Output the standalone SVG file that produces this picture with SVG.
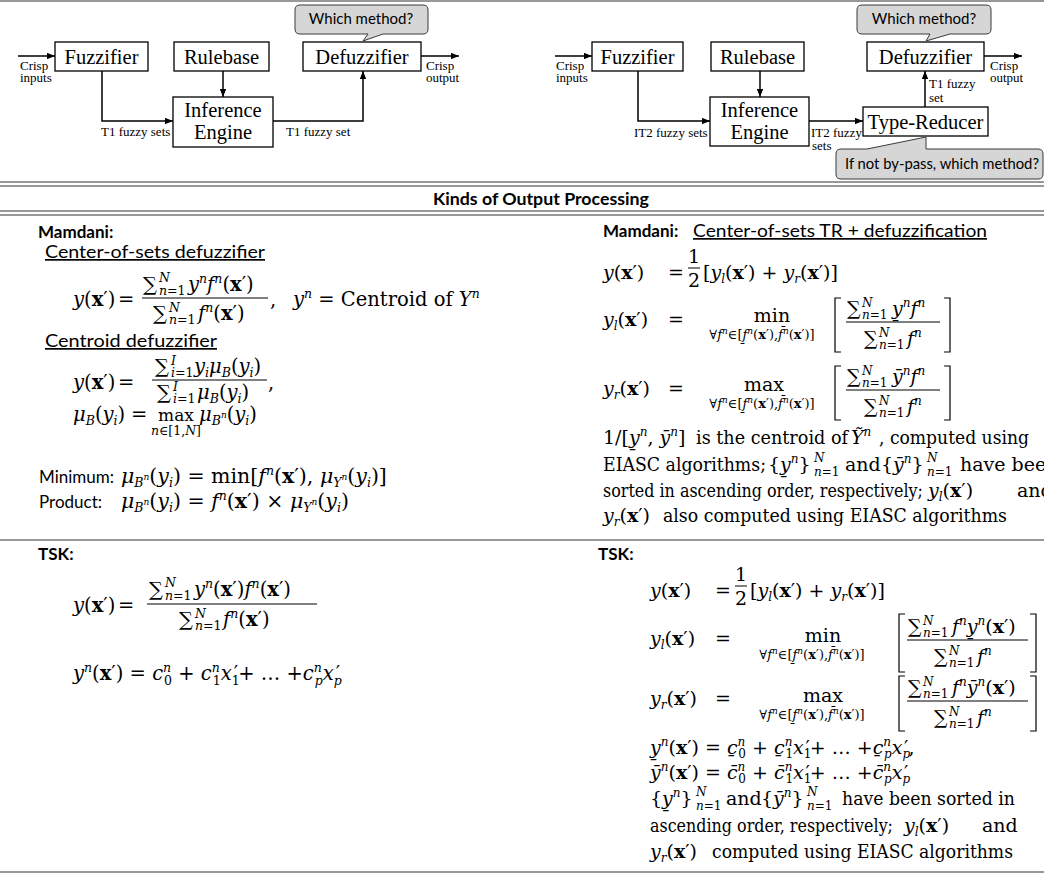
<svg xmlns="http://www.w3.org/2000/svg" width="1044" height="875" viewBox="0 0 1044 875">
<style>
.sep{stroke:#767676;stroke-width:1.6;fill:none}
.box rect{fill:#fff;stroke:#000;stroke-width:1.3}
.bt{font-family:"Liberation Serif","Times New Roman",serif;font-size:20.5px;text-anchor:middle;fill:#000}
.lb{font-family:"Liberation Serif","Times New Roman",serif;font-size:13px;fill:#000}
.call path{fill:#d6d6d6;stroke:#3a3a3a;stroke-width:1}
.ct{font-family:Lato,"Liberation Sans",sans-serif;font-size:15px;fill:#000}
#connectors path{fill:none;stroke:#000;stroke-width:1.5}
.sn{font-family:Lato,"Liberation Sans",sans-serif;font-size:17px;fill:#000}
.sb{font-family:Lato,"Liberation Sans",sans-serif;font-size:17px;font-weight:bold;fill:#000}
.m{font-family:"DejaVu Serif",serif;font-size:19.5px;fill:#000}
.mm{font-family:"DejaVu Serif",serif;font-size:20.5px;fill:#000}
.r{font-family:"DejaVu Serif",serif;font-size:19px;fill:#000}
.i{font-style:italic}
.b{font-weight:bold;font-style:normal}
.s{font-size:12.5px}
.q{font-size:12px}
.lim{font-size:13px}
.t{font-size:9px}
.op{font-size:17px}
.fb{stroke:#000;stroke-width:1}
.br{fill:none;stroke:#000;stroke-width:1.2}
.u{text-decoration:underline}
</style>
<defs>
<marker id="ah" viewBox="0 0 10 8" refX="10" refY="4" markerWidth="8" markerHeight="6.4" markerUnits="userSpaceOnUse" orient="auto"><path d="M0,0 L10,4 L0,8 z" fill="#000"/></marker>
</defs>
<rect x="0" y="0" width="1044" height="875" fill="#fff"/>
<g id="rules">
<line class="sep" x1="0" y1="1" x2="1044" y2="1"/>
<line class="sep" x1="0" y1="182" x2="1044" y2="182"/>
<line class="sep" x1="0" y1="186" x2="1044" y2="186"/>
<line class="sep" x1="0" y1="211" x2="1044" y2="211"/>
<line class="sep" x1="0" y1="215" x2="1044" y2="215"/>
<line class="sep" x1="0" y1="540" x2="1044" y2="540"/>
<line class="sep" x1="0" y1="872" x2="1044" y2="872"/>
</g>

<!-- T1 FLS -->
<g id="t1-fuzzifier" class="box"><rect x="55" y="42" width="93" height="29"/><text class="bt" x="101.5" y="64">Fuzzifier</text></g>
<g id="t1-rulebase" class="box"><rect x="174" y="42" width="95" height="29"/><text class="bt" x="221.5" y="64">Rulebase</text></g>
<g id="t1-defuzzifier" class="box"><rect x="303" y="42" width="118" height="29"/><text class="bt" x="362" y="64">Defuzzifier</text></g>
<g id="t1-inference" class="box"><rect x="173" y="97" width="100" height="50"/><text class="bt" x="223" y="117">Inference</text><text class="bt" x="223" y="139">Engine</text></g>
<g id="t1-callout" class="call"><path d="M300,5 H423 Q428,5 428,10 V29 Q428,34 423,34 H383 L363,41 L368,34 H300 Q295,34 295,29 V10 Q295,5 300,5 Z"/><text class="ct" x="361" y="24" text-anchor="middle">Which method?</text></g>

<!-- IT2 FLS -->
<g id="it2-fuzzifier" class="box"><rect x="592" y="42" width="91" height="29"/><text class="bt" x="637.5" y="64">Fuzzifier</text></g>
<g id="it2-rulebase" class="box"><rect x="711" y="42" width="93" height="29"/><text class="bt" x="757.5" y="64">Rulebase</text></g>
<g id="it2-defuzzifier" class="box"><rect x="867" y="42" width="117" height="29"/><text class="bt" x="925.5" y="64">Defuzzifier</text></g>
<g id="it2-inference" class="box"><rect x="710" y="97" width="99" height="49"/><text class="bt" x="759.5" y="117">Inference</text><text class="bt" x="759.5" y="139">Engine</text></g>
<g id="it2-typereducer" class="box"><rect x="863" y="107" width="125" height="29"/><text class="bt" x="925.5" y="129">Type-Reducer</text></g>
<g id="it2-callout-def" class="call"><path d="M862,5 H986 Q991,5 991,10 V29 Q991,34 986,34 H950 L926,41 L930,34 H862 Q857,34 857,29 V10 Q857,5 862,5 Z"/><text class="ct" x="924" y="24" text-anchor="middle">Which method?</text></g>
<g id="it2-callout-tr" class="call"><path d="M841,149 H867 L926,137 L926,149 H1038 Q1043,149 1043,154 V174 Q1043,179 1038,179 H841 Q836,179 836,174 V154 Q836,149 841,149 Z"/><text class="ct" x="845" y="169" textLength="194" lengthAdjust="spacingAndGlyphs">If not by-pass, which method?</text></g>

<g id="connectors">
<path d="M18,56 H55" marker-end="url(#ah)"/>
<path d="M102,71 V121 H173" marker-end="url(#ah)"/>
<path d="M223,71 V97" marker-end="url(#ah)"/>
<path d="M273,121 H363 V71" marker-end="url(#ah)"/>
<path d="M421,56 H459" marker-end="url(#ah)"/>
<path d="M555,56 H592" marker-end="url(#ah)"/>
<path d="M638,71 V121 H710" marker-end="url(#ah)"/>
<path d="M760,71 V97" marker-end="url(#ah)"/>
<path d="M809,121 H863" marker-end="url(#ah)"/>
<path d="M925,107 V71" marker-end="url(#ah)"/>
<path d="M984,56 H1022" marker-end="url(#ah)"/>
<text class="lb" x="20" y="70">Crisp</text><text class="lb" x="20" y="82">inputs</text>
<text class="lb" x="426" y="70">Crisp</text><text class="lb" x="426" y="82">output</text>
<text class="lb" x="101" y="136">T1 fuzzy sets</text>
<text class="lb" x="286" y="136">T1 fuzzy set</text>
<text class="lb" x="556" y="70">Crisp</text><text class="lb" x="556" y="82">inputs</text>
<text class="lb" x="990" y="70">Crisp</text><text class="lb" x="990" y="82">output</text>
<text class="lb" x="634" y="137">IT2 fuzzy sets</text>
<text class="lb" x="811" y="137">IT2 fuzzy</text><text class="lb" x="812" y="150">sets</text>
<text class="lb" x="929" y="88">T1 fuzzy</text><text class="lb" x="929" y="102">set</text>
</g>

<text class="sb" x="541" y="205" text-anchor="middle" textLength="216" lengthAdjust="spacingAndGlyphs">Kinds of Output Processing</text>

<!-- LEFT: Mamdani -->
<g id="left-mamdani">
<text class="sb" x="38" y="238">Mamdani:</text>
<text class="sn u" x="45" y="258" textLength="220" lengthAdjust="spacingAndGlyphs">Center-of-sets defuzzifier</text>
<text class="m" x="73" y="306"><tspan class="i">y</tspan>(<tspan class="b">x</tspan>′)<tspan x="118">=</tspan></text>
<text class="m" x="143" y="291">∑</text>
<text class="m s i" x="159" y="282">N</text>
<text class="m s" x="159" y="295"><tspan class="i">n</tspan>=1</text>
<text class="m" x="188" y="291"><tspan class="i">y</tspan><tspan class="s i" dy="-8">n</tspan><tspan class="i" dy="8">f</tspan><tspan class="s i" dy="-8">n</tspan><tspan dy="8">(</tspan><tspan class="b">x</tspan>′)</text>
<line class="fb" x1="142" y1="298" x2="268" y2="298"/>
<text class="m" x="153" y="320">∑</text>
<text class="m s i" x="169" y="312">N</text>
<text class="m s" x="169" y="324"><tspan class="i">n</tspan>=1</text>
<text class="m" x="198" y="320"><tspan class="i">f</tspan><tspan class="s i" dy="-8">n</tspan><tspan dy="8">(</tspan><tspan class="b">x</tspan>′)</text>
<text class="m" x="270" y="306">,</text>
<text class="m" x="293" y="306"><tspan class="i">y</tspan><tspan class="s i" dy="-8">n</tspan><tspan dy="8"> = Centroid of </tspan><tspan class="i">Y</tspan><tspan class="s i" dy="-8">n</tspan></text>

<text class="sn u" x="45" y="347" textLength="172" lengthAdjust="spacingAndGlyphs">Centroid defuzzifier</text>
<text class="m" x="73" y="389"><tspan class="i">y</tspan>(<tspan class="b">x</tspan>′)<tspan x="118">=</tspan></text>
<text class="m" x="155" y="373">∑</text>
<text class="m s i" x="171" y="365">I</text>
<text class="m s" x="171" y="377"><tspan class="i">i</tspan>=1</text>
<text class="m" x="194" y="373"><tspan class="i">y</tspan><tspan class="s i" dy="4">i</tspan><tspan class="i" dy="-4">μ</tspan><tspan class="s i" dy="4">B</tspan><tspan dy="-4">(</tspan><tspan class="i">y</tspan><tspan class="s i" dy="4">i</tspan><tspan dy="-4">)</tspan></text>
<line class="fb" x1="152" y1="380" x2="267" y2="380"/>
<text class="m" x="157" y="399">∑</text>
<text class="m s i" x="173" y="391">I</text>
<text class="m s" x="173" y="403"><tspan class="i">i</tspan>=1</text>
<text class="m" x="197" y="399"><tspan class="i">μ</tspan><tspan class="s i" dy="4">B</tspan><tspan dy="-4">(</tspan><tspan class="i">y</tspan><tspan class="s i" dy="4">i</tspan><tspan dy="-4">)</tspan></text>
<text class="m" x="268" y="389">,</text>
<text class="m" x="73" y="421"><tspan class="i">μ</tspan><tspan class="s i" dy="4">B</tspan><tspan dy="-4">(</tspan><tspan class="i">y</tspan><tspan class="s i" dy="4">i</tspan><tspan dy="-4">)</tspan><tspan x="131">=</tspan></text>
<text class="m op" x="176" y="421" text-anchor="middle">max</text>
<text class="m s" x="176" y="435" text-anchor="middle"><tspan class="i">n</tspan>∈[1,<tspan class="i">N</tspan>]</text>
<text class="m" x="199" y="421"><tspan class="i">μ</tspan><tspan class="s i" dy="4">B</tspan><tspan class="t i" dy="-7">n</tspan><tspan dy="3">(</tspan><tspan class="i">y</tspan><tspan class="s i" dy="4">i</tspan><tspan dy="-4">)</tspan></text>

<text class="sn" x="39" y="483">Minimum:</text>
<text class="mm" x="121" y="483"><tspan class="i">μ</tspan><tspan class="s i" dy="4">B</tspan><tspan class="t i" dy="-7">n</tspan><tspan dy="3">(</tspan><tspan class="i">y</tspan><tspan class="s i" dy="4">i</tspan><tspan dy="-4">) = min[</tspan><tspan class="i">f</tspan><tspan class="s i" dy="-8">n</tspan><tspan dy="8">(</tspan><tspan class="b">x</tspan>′), <tspan class="i">μ</tspan><tspan class="s i" dy="4">Y</tspan><tspan class="t i" dy="-7">n</tspan><tspan dy="3">(</tspan><tspan class="i">y</tspan><tspan class="s i" dy="4">i</tspan><tspan dy="-4">)]</tspan></text>
<text class="sn" x="39" y="508">Product:</text>
<text class="mm" x="121" y="508"><tspan class="i">μ</tspan><tspan class="s i" dy="4">B</tspan><tspan class="t i" dy="-7">n</tspan><tspan dy="3">(</tspan><tspan class="i">y</tspan><tspan class="s i" dy="4">i</tspan><tspan dy="-4">) = </tspan><tspan class="i">f</tspan><tspan class="s i" dy="-8">n</tspan><tspan dy="8">(</tspan><tspan class="b">x</tspan>′) × <tspan class="i">μ</tspan><tspan class="s i" dy="4">Y</tspan><tspan class="t i" dy="-7">n</tspan><tspan dy="3">(</tspan><tspan class="i">y</tspan><tspan class="s i" dy="4">i</tspan><tspan dy="-4">)</tspan></text>
</g>

<!-- LEFT: TSK -->
<g id="left-tsk">
<text class="sb" x="38" y="560">TSK:</text>
<text class="m" x="73" y="612"><tspan class="i">y</tspan>(<tspan class="b">x</tspan>′)<tspan x="118">=</tspan></text>
<text class="m" x="149" y="596">∑</text>
<text class="m s i" x="165" y="587">N</text>
<text class="m s" x="165" y="600"><tspan class="i">n</tspan>=1</text>
<text class="m" x="194" y="596"><tspan class="i">y</tspan><tspan class="s i" dy="-8">n</tspan><tspan dy="8">(</tspan><tspan class="b">x</tspan>′)<tspan class="i">f</tspan><tspan class="s i" dy="-8">n</tspan><tspan dy="8">(</tspan><tspan class="b">x</tspan>′)</text>
<line class="fb" x1="147" y1="604" x2="317" y2="604"/>
<text class="m" x="179" y="626">∑</text>
<text class="m s i" x="195" y="618">N</text>
<text class="m s" x="195" y="630"><tspan class="i">n</tspan>=1</text>
<text class="m" x="223" y="626"><tspan class="i">f</tspan><tspan class="s i" dy="-8">n</tspan><tspan dy="8">(</tspan><tspan class="b">x</tspan>′)</text>
<text class="m" x="73" y="680"><tspan class="i">y</tspan><tspan class="s i" dy="-8">n</tspan><tspan dy="8">(</tspan><tspan class="b">x</tspan>′) = <tspan class="i">c</tspan><tspan class="s i" dy="-8">n</tspan><tspan class="s" dx="-7" dy="13">0</tspan><tspan dy="-5"> + </tspan><tspan class="i">c</tspan><tspan class="s i" dy="-8">n</tspan><tspan class="s" dx="-7" dy="13">1</tspan><tspan class="i" dy="-5">x</tspan><tspan class="s" dy="5">1</tspan><tspan dx="-6" dy="-5">′</tspan>+ … +<tspan class="i">c</tspan><tspan class="s i" dy="-8">n</tspan><tspan class="s i" dx="-7" dy="13">p</tspan><tspan class="i" dy="-5">x</tspan><tspan class="s i" dy="5">p</tspan><tspan dx="-6" dy="-5">′</tspan></text>
</g>

<!-- RIGHT: Mamdani -->
<g id="right-mamdani">
<text class="sb" x="603" y="237">Mamdani:</text>
<text class="sn u" x="693" y="237" textLength="294" lengthAdjust="spacingAndGlyphs">Center-of-sets TR + defuzzification</text>
<text class="r" x="603" y="279"><tspan class="i">y</tspan>(<tspan class="b">x</tspan>′)<tspan x="668">=</tspan></text>
<text class="r" x="694" y="263" text-anchor="middle">1</text>
<line class="fb" x1="688" y1="268" x2="700" y2="268"/>
<text class="r" x="694" y="287" text-anchor="middle">2</text>
<text class="r" x="703" y="279">[<tspan class="i">y</tspan><tspan class="q i" dy="4">l</tspan><tspan dy="-4">(</tspan><tspan class="b">x</tspan>′) + <tspan class="i">y</tspan><tspan class="q i" dy="4">r</tspan><tspan dy="-4">(</tspan><tspan class="b">x</tspan>′)]</text>

<text class="r" x="603" y="326"><tspan class="i">y</tspan><tspan class="q i" dy="4">l</tspan><tspan dy="-4">(</tspan><tspan class="b">x</tspan>′)<tspan x="668">=</tspan></text>
<text class="r" x="772" y="322" text-anchor="middle">min</text>
<text class="r lim" x="762" y="339" text-anchor="middle">∀<tspan class="i">f</tspan><tspan class="t i" dy="-5">n</tspan><tspan dy="5">∈[</tspan><tspan class="i">f̱</tspan><tspan class="t i" dy="-5">n</tspan><tspan dy="5">(</tspan><tspan class="b">x</tspan>′),<tspan class="i">f̄</tspan><tspan class="t i" dy="-5">n</tspan><tspan dy="5">(</tspan><tspan class="b">x</tspan>′)]</text>
<path class="br" d="M841,298 H835 V352 H841"/>
<path class="br" d="M944,298 H950 V352 H944"/>
<text class="r" x="847" y="315">∑</text>
<text class="r q i" x="862" y="307">N</text>
<text class="r q" x="862" y="319"><tspan class="i">n</tspan>=1</text>
<text class="r" x="892" y="315"><tspan class="i">y̱</tspan><tspan class="q i" dy="-8">n</tspan><tspan class="i" dy="8">f</tspan><tspan class="q i" dy="-8">n</tspan></text>
<line class="fb" x1="846" y1="322" x2="940" y2="322"/>
<text class="r" x="864" y="345">∑</text>
<text class="r q i" x="879" y="337">N</text>
<text class="r q" x="879" y="349"><tspan class="i">n</tspan>=1</text>
<text class="r" x="907" y="345"><tspan class="i">f</tspan><tspan class="q i" dy="-8">n</tspan></text>

<text class="r" x="603" y="395"><tspan class="i">y</tspan><tspan class="q i" dy="4">r</tspan><tspan dy="-4">(</tspan><tspan class="b">x</tspan>′)<tspan x="668">=</tspan></text>
<text class="r" x="764" y="391" text-anchor="middle">max</text>
<text class="r lim" x="762" y="408" text-anchor="middle">∀<tspan class="i">f</tspan><tspan class="t i" dy="-5">n</tspan><tspan dy="5">∈[</tspan><tspan class="i">f̱</tspan><tspan class="t i" dy="-5">n</tspan><tspan dy="5">(</tspan><tspan class="b">x</tspan>′),<tspan class="i">f̄</tspan><tspan class="t i" dy="-5">n</tspan><tspan dy="5">(</tspan><tspan class="b">x</tspan>′)]</text>
<path class="br" d="M841,366 H835 V420 H841"/>
<path class="br" d="M944,366 H950 V420 H944"/>
<text class="r" x="847" y="383">∑</text>
<text class="r q i" x="862" y="375">N</text>
<text class="r q" x="862" y="387"><tspan class="i">n</tspan>=1</text>
<text class="r" x="892" y="383"><tspan class="i">ȳ</tspan><tspan class="q i" dy="-8">n</tspan><tspan class="i" dy="8">f</tspan><tspan class="q i" dy="-8">n</tspan></text>
<line class="fb" x1="846" y1="390" x2="940" y2="390"/>
<text class="r" x="864" y="413">∑</text>
<text class="r q i" x="879" y="405">N</text>
<text class="r q" x="879" y="417"><tspan class="i">n</tspan>=1</text>
<text class="r" x="907" y="413"><tspan class="i">f</tspan><tspan class="q i" dy="-8">n</tspan></text>

<text class="r" x="603" y="444">1/[<tspan class="i">y̱</tspan><tspan class="q i" dy="-8">n</tspan><tspan dy="8">, </tspan><tspan class="i">ȳ</tspan><tspan class="q i" dy="-8">n</tspan><tspan dy="8">]</tspan></text>
<text class="r" x="696" y="444" textLength="152" lengthAdjust="spacingAndGlyphs">is the centroid of</text>
<text class="r" x="851" y="444"><tspan class="i">Ỹ</tspan><tspan class="q i" dy="-8">n</tspan></text>
<text class="r" x="879" y="444" textLength="150" lengthAdjust="spacingAndGlyphs">, computed using</text>

<text class="r" x="603" y="471" textLength="163" lengthAdjust="spacingAndGlyphs">EIASC algorithms;</text>
<text class="r" x="768" y="471">{<tspan class="i">y̱</tspan><tspan class="q i" dy="-8">n</tspan><tspan dy="8">}</tspan></text>
<text class="r q i" x="814" y="462">N</text>
<text class="r q" x="814" y="476"><tspan class="i">n</tspan>=1</text>
<text class="r" x="845" y="471">and</text>
<text class="r" x="881" y="471">{<tspan class="i">ȳ</tspan><tspan class="q i" dy="-8">n</tspan><tspan dy="8">}</tspan></text>
<text class="r q i" x="927" y="462">N</text>
<text class="r q" x="927" y="476"><tspan class="i">n</tspan>=1</text>
<text class="r" x="960" y="471">have been</text>

<text class="r" x="603" y="497" textLength="320" lengthAdjust="spacingAndGlyphs">sorted in ascending order, respectively;</text>
<text class="r" x="928" y="497"><tspan class="i">y</tspan><tspan class="q i" dy="4">l</tspan><tspan dy="-4">(</tspan><tspan class="b">x</tspan>′)</text>
<text class="r" x="1017" y="497">and</text>

<text class="r" x="603" y="522"><tspan class="i">y</tspan><tspan class="q i" dy="4">r</tspan><tspan dy="-4">(</tspan><tspan class="b">x</tspan>′)</text>
<text class="r" x="663" y="522" textLength="344" lengthAdjust="spacingAndGlyphs">also computed using EIASC algorithms</text>
</g>

<!-- RIGHT: TSK -->
<g id="right-tsk">
<text class="sb" x="598" y="560">TSK:</text>
<text class="r" x="650" y="597"><tspan class="i">y</tspan>(<tspan class="b">x</tspan>′)<tspan x="715">=</tspan></text>
<text class="r" x="741" y="581" text-anchor="middle">1</text>
<line class="fb" x1="735" y1="586" x2="747" y2="586"/>
<text class="r" x="741" y="605" text-anchor="middle">2</text>
<text class="r" x="750" y="597">[<tspan class="i">y</tspan><tspan class="q i" dy="4">l</tspan><tspan dy="-4">(</tspan><tspan class="b">x</tspan>′) + <tspan class="i">y</tspan><tspan class="q i" dy="4">r</tspan><tspan dy="-4">(</tspan><tspan class="b">x</tspan>′)]</text>

<text class="r" x="650" y="645"><tspan class="i">y</tspan><tspan class="q i" dy="4">l</tspan><tspan dy="-4">(</tspan><tspan class="b">x</tspan>′)<tspan x="715">=</tspan></text>
<text class="r" x="823" y="642" text-anchor="middle">min</text>
<text class="r lim" x="812" y="659" text-anchor="middle">∀<tspan class="i">f</tspan><tspan class="t i" dy="-5">n</tspan><tspan dy="5">∈[</tspan><tspan class="i">f̱</tspan><tspan class="t i" dy="-5">n</tspan><tspan dy="5">(</tspan><tspan class="b">x</tspan>′),<tspan class="i">f̄</tspan><tspan class="t i" dy="-5">n</tspan><tspan dy="5">(</tspan><tspan class="b">x</tspan>′)]</text>
<path class="br" d="M905,614 H899 V672 H905"/>
<path class="br" d="M1030,614 H1036 V672 H1030"/>
<text class="r" x="908" y="633">∑</text>
<text class="r q i" x="923" y="625">N</text>
<text class="r q" x="923" y="637"><tspan class="i">n</tspan>=1</text>
<text class="r" x="952" y="633"><tspan class="i">f</tspan><tspan class="q i" dy="-8">n</tspan><tspan class="i" dy="8">y̱</tspan><tspan class="q i" dy="-8">n</tspan><tspan dy="8">(</tspan><tspan class="b">x</tspan>′)</text>
<line class="fb" x1="907" y1="640" x2="1028" y2="640"/>
<text class="r" x="934" y="663">∑</text>
<text class="r q i" x="949" y="655">N</text>
<text class="r q" x="949" y="667"><tspan class="i">n</tspan>=1</text>
<text class="r" x="977" y="663"><tspan class="i">f</tspan><tspan class="q i" dy="-8">n</tspan></text>

<text class="r" x="650" y="705"><tspan class="i">y</tspan><tspan class="q i" dy="4">r</tspan><tspan dy="-4">(</tspan><tspan class="b">x</tspan>′)<tspan x="715">=</tspan></text>
<text class="r" x="823" y="702" text-anchor="middle">max</text>
<text class="r lim" x="812" y="719" text-anchor="middle">∀<tspan class="i">f</tspan><tspan class="t i" dy="-5">n</tspan><tspan dy="5">∈[</tspan><tspan class="i">f̱</tspan><tspan class="t i" dy="-5">n</tspan><tspan dy="5">(</tspan><tspan class="b">x</tspan>′),<tspan class="i">f̄</tspan><tspan class="t i" dy="-5">n</tspan><tspan dy="5">(</tspan><tspan class="b">x</tspan>′)]</text>
<path class="br" d="M905,676 H899 V731 H905"/>
<path class="br" d="M1030,676 H1036 V731 H1030"/>
<text class="r" x="908" y="694">∑</text>
<text class="r q i" x="923" y="686">N</text>
<text class="r q" x="923" y="698"><tspan class="i">n</tspan>=1</text>
<text class="r" x="952" y="694"><tspan class="i">f</tspan><tspan class="q i" dy="-8">n</tspan><tspan class="i" dy="8">ȳ</tspan><tspan class="q i" dy="-8">n</tspan><tspan dy="8">(</tspan><tspan class="b">x</tspan>′)</text>
<line class="fb" x1="907" y1="701" x2="1028" y2="701"/>
<text class="r" x="934" y="724">∑</text>
<text class="r q i" x="949" y="716">N</text>
<text class="r q" x="949" y="728"><tspan class="i">n</tspan>=1</text>
<text class="r" x="977" y="724"><tspan class="i">f</tspan><tspan class="q i" dy="-8">n</tspan></text>

<text class="r" x="650" y="754"><tspan class="i">y̱</tspan><tspan class="q i" dy="-8">n</tspan><tspan dy="8">(</tspan><tspan class="b">x</tspan>′) = <tspan class="i">c̱</tspan><tspan class="q i" dy="-8">n</tspan><tspan class="q" dx="-7" dy="12">0</tspan><tspan dy="-4"> + </tspan><tspan class="i">c̱</tspan><tspan class="q i" dy="-8">n</tspan><tspan class="q" dx="-7" dy="12">1</tspan><tspan class="i" dy="-4">x</tspan><tspan class="q" dy="4">1</tspan><tspan dx="-6" dy="-4">′</tspan>+ … +<tspan class="i">c̱</tspan><tspan class="q i" dy="-8">n</tspan><tspan class="q i" dx="-7" dy="12">p</tspan><tspan class="i" dy="-4">x</tspan><tspan class="q i" dy="4">p</tspan><tspan dx="-6" dy="-4">′</tspan>,</text>
<text class="r" x="650" y="779"><tspan class="i">ȳ</tspan><tspan class="q i" dy="-8">n</tspan><tspan dy="8">(</tspan><tspan class="b">x</tspan>′) = <tspan class="i">c̄</tspan><tspan class="q i" dy="-8">n</tspan><tspan class="q" dx="-7" dy="12">0</tspan><tspan dy="-4"> + </tspan><tspan class="i">c̄</tspan><tspan class="q i" dy="-8">n</tspan><tspan class="q" dx="-7" dy="12">1</tspan><tspan class="i" dy="-4">x</tspan><tspan class="q" dy="4">1</tspan><tspan dx="-6" dy="-4">′</tspan>+ … +<tspan class="i">c̄</tspan><tspan class="q i" dy="-8">n</tspan><tspan class="q i" dx="-7" dy="12">p</tspan><tspan class="i" dy="-4">x</tspan><tspan class="q i" dy="4">p</tspan><tspan dx="-6" dy="-4">′</tspan></text>

<text class="r" x="650" y="805">{<tspan class="i">y̱</tspan><tspan class="q i" dy="-8">n</tspan><tspan dy="8">}</tspan></text>
<text class="r q i" x="696" y="796">N</text>
<text class="r q" x="696" y="810"><tspan class="i">n</tspan>=1</text>
<text class="r" x="726" y="805">and</text>
<text class="r" x="761" y="805">{<tspan class="i">ȳ</tspan><tspan class="q i" dy="-8">n</tspan><tspan dy="8">}</tspan></text>
<text class="r q i" x="807" y="796">N</text>
<text class="r q" x="807" y="810"><tspan class="i">n</tspan>=1</text>
<text class="r" x="842" y="805" textLength="173" lengthAdjust="spacingAndGlyphs">have been sorted in</text>

<text class="r" x="650" y="832" textLength="243" lengthAdjust="spacingAndGlyphs">ascending order, respectively;</text>
<text class="r" x="904" y="832"><tspan class="i">y</tspan><tspan class="q i" dy="4">l</tspan><tspan dy="-4">(</tspan><tspan class="b">x</tspan>′)</text>
<text class="r" x="982" y="832">and</text>

<text class="r" x="650" y="858"><tspan class="i">y</tspan><tspan class="q i" dy="4">r</tspan><tspan dy="-4">(</tspan><tspan class="b">x</tspan>′)</text>
<text class="r" x="712" y="858" textLength="301" lengthAdjust="spacingAndGlyphs">computed using EIASC algorithms</text>
</g>
</svg>
